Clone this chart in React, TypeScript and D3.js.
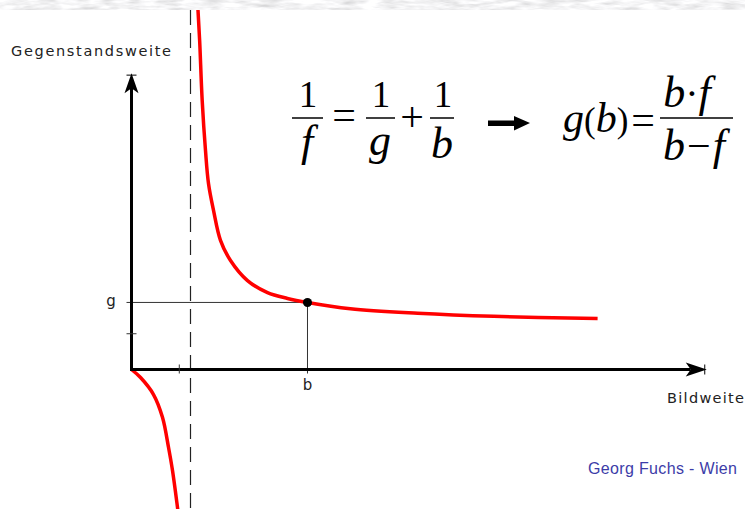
import * as d3 from 'd3';

// lens equation: image distance b (x) vs object distance g (y), f = 1
const focalLength = 1;
const upperB = [1.119, 1.127, 1.155, 1.198, 1.254, 1.305, 1.39, 1.508, 1.678, 1.966, 2.305, 2.644, 2.983, 3.71, 4.85, 6.14, 7.9];
const upperG = [8.27, 8.04, 7.36, 6.02, 4.9, 4.16, 3.56, 2.89, 2.44, 1.99, 1.72, 1.59, 1.5, 1.36, 1.26, 1.19, 1.14];
const lowerB = [0, 0.153, 0.373, 0.525, 0.627, 0.695, 0.78, 0.8];
const lowerG = [0, -0.18, -0.56, -1.07, -1.74, -2.26, -3.09, -3.3];
const markedPoint = [2.983, 1.5];
const xTickValues = [0.81];
const yTickValues = [0.8];
const axisEnds = [9.75, 6.63];

const W = 745;
const H = 509;

const serif = '"Liberation Serif", "Times New Roman", serif';
const sans = '"Liberation Sans", Arial, sans-serif';
const wideSans = '"DejaVu Sans", Verdana, sans-serif';

// formula runs: anchor x, baseline, anchor, pieces [text, size, italic, dx]
type Piece = [string, number, boolean, number];
type Run = { x: number; y: number; anchor: string; pieces: Piece[] };
const formulaRuns: Run[] = [
    { x: 308, y: 107, anchor: 'middle', pieces: [['1', 37, false, 0]] },
    { x: 307, y: 156, anchor: 'middle', pieces: [['f', 44, true, 0]] },
    { x: 344, y: 129, anchor: 'middle', pieces: [['=', 42, false, 0]] },
    { x: 381, y: 107, anchor: 'middle', pieces: [['1', 37, false, 0]] },
    { x: 380, y: 155, anchor: 'middle', pieces: [['g', 44, true, 0]] },
    { x: 412, y: 131, anchor: 'middle', pieces: [['+', 42, false, 0]] },
    { x: 443, y: 107, anchor: 'middle', pieces: [['1', 37, false, 0]] },
    { x: 442, y: 158, anchor: 'middle', pieces: [['b', 44, true, 0]] },
    { x: 563, y: 132, anchor: 'start', pieces: [['g', 42, true, 0], ['(', 35, false, 0], ['b', 42, true, 0], [')', 35, false, 0]] },
    { x: 643, y: 134, anchor: 'middle', pieces: [['=', 42, false, 0]] },
    { x: 687, y: 107, anchor: 'middle', pieces: [['b', 44, true, 0], ['·', 40, false, 0], ['f', 44, true, 0]] },
    { x: 694, y: 160, anchor: 'middle', pieces: [['b', 44, true, 0], ['−', 42, false, 2], ['f', 44, true, 2]] },
];
const fractionBars = [[292, 323], [366, 395], [430, 454], [660, 733]];

const App = () => {
    const x = d3.scaleLinear().domain([0, 10]).range([131.5, 721.5]);
    const y = d3.scaleLinear().domain([0, 8]).range([369.5, 11.9]);

    const line = d3.line<number[]>()
        .x(d => x(d[0]))
        .y(d => y(d[1]))
        .curve(d3.curveCatmullRom);

    const upper = upperB.map((b, i) => [b, upperG[i]]);
    const lower = lowerB.map((b, i) => [b, lowerG[i]]);

    const x0 = x(0), y0 = y(0);
    const xEnd = x(axisEnds[0]);
    const yEnd = y(axisEnds[1]);
    const px = x(markedPoint[0]), py = y(markedPoint[1]);

    return (
        <svg width={W} height={H} viewBox={`0 0 ${W} ${H}`}
            style={{ position: 'absolute', left: 0, top: 0, background: '#fff' }}>
            <defs>
                <filter id="marble" x="0" y="0" width="100%" height="100%">
                    <feTurbulence type="fractalNoise" baseFrequency="0.05 0.25" numOctaves="3" seed="4" />
                    <feColorMatrix type="matrix"
                        values="0.4 0.4 0 0 0.5  0.4 0.4 0 0 0.5  0.4 0.4 0 0 0.51  0 0 0 0 1" />
                </filter>
            </defs>

            {/* asymptote b = f */}
            <line x1={x(focalLength)} x2={x(focalLength)} y1={10} y2={H}
                stroke="#222" strokeWidth={1.2} strokeDasharray="15 8" />

            {/* guide lines to marked point */}
            <line x1={x0 - 5} x2={px} y1={py} y2={py} stroke="#333" strokeWidth={1} />
            <line x1={px} x2={px} y1={py} y2={y0 + 4} stroke="#333" strokeWidth={1} />

            {/* curve */}
            <path d={line(upper) || ''} fill="none" stroke="#ff0000" strokeWidth={3.5} />
            <path d={line(lower) || ''} fill="none" stroke="#ff0000" strokeWidth={3.5} />

            {/* axes */}
            <line x1={x0} x2={x0} y1={y0 + 1.5} y2={yEnd + 14} stroke="#000" strokeWidth={3} />
            <line x1={x0 - 1.5} x2={xEnd - 16} y1={y0} y2={y0} stroke="#000" strokeWidth={3} />
            <path d={`M${x0},${yEnd} L${x0 - 7},${yEnd + 20} L${x0},${yEnd + 15} L${x0 + 7},${yEnd + 20} Z`} fill="#000" />
            <path d={`M${xEnd},${y0} L${xEnd - 21},${y0 - 7} L${xEnd - 16},${y0} L${xEnd - 21},${y0 + 7} Z`} fill="#000" />
            <line x1={x0 - 5} x2={x0 + 5} y1={yEnd + 2} y2={yEnd + 2} stroke="#000" strokeWidth={1} />
            <line x1={xEnd - 2} x2={xEnd - 2} y1={y0 - 5} y2={y0 + 5} stroke="#000" strokeWidth={1} />

            {xTickValues.map(v => (
                <line key={'xt' + v} x1={x(v)} x2={x(v)} y1={y0 - 5} y2={y0 + 4} stroke="#333" strokeWidth={1} />
            ))}
            {yTickValues.map(v => (
                <line key={'yt' + v} x1={x0 - 5} x2={x0 + 5} y1={y(v)} y2={y(v)} stroke="#333" strokeWidth={1} />
            ))}

            <circle cx={px} cy={py} r={4.5} fill="#000" />

            {/* labels */}
            <g fontFamily={wideSans} fill="#222">
                <text x={11} y={56} fontSize={14.5} textLength={160} lengthAdjust="spacing">Gegenstandsweite</text>
                <text x={667} y={403} fontSize={14.5} textLength={77} lengthAdjust="spacing">Bildweite</text>
                <text x={111} y={306} fontSize={15} textAnchor="middle">g</text>
                <text x={px} y={390} fontSize={15} textAnchor="middle">b</text>
            </g>
            <text x={588} y={474} fontFamily={sans} fontSize={16} fill="#3c3ca8"
                textLength={149} lengthAdjust="spacing">Georg Fuchs - Wien</text>

            {/* formulas */}
            <g fontFamily={serif} fill="#000">
                {formulaRuns.map((run, i) => (
                    <text key={i} x={run.x} y={run.y} textAnchor={run.anchor}>
                        {run.pieces.map(([t, size, italic, dx], j) => (
                            <tspan key={j} dx={dx || undefined} fontSize={size}
                                fontStyle={italic ? 'italic' : 'normal'}>{t}</tspan>
                        ))}
                    </text>
                ))}
            </g>
            <g stroke="#000" strokeWidth={1.5}>
                {fractionBars.map(([a, b], i) => (
                    <line key={i} x1={a} x2={b} y1={118} y2={118} />
                ))}
            </g>
            <path d="M488,120.5 L514,120.5 L514,116 L530,123 L514,130.5 L514,126 L488,126 Z" fill="#000" />

            {/* marble band on top */}
            <rect x={0} y={0} width={W} height={10} filter="url(#marble)" />
        </svg>
    );
};

export default App;
